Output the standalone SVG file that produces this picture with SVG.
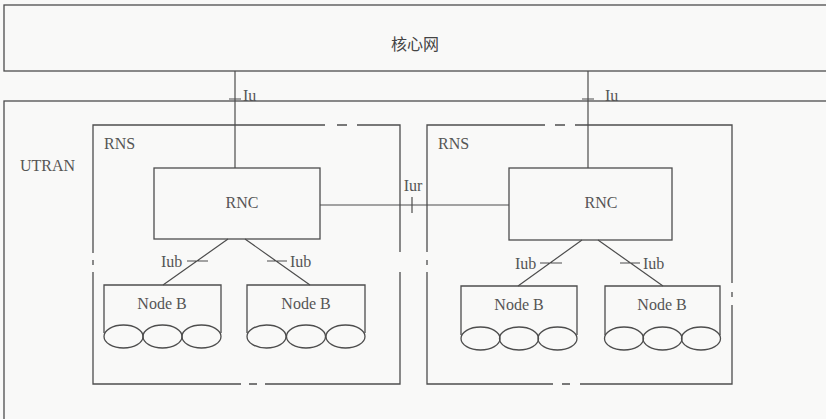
<svg xmlns="http://www.w3.org/2000/svg" width="826" height="419" viewBox="0 0 826 419">
<style>
.b{fill:none;stroke:#4d4d4d;stroke-width:1.3}
.l{fill:none;stroke:#4d4d4d;stroke-width:1.2}
.t{font-family:"Liberation Serif",serif;font-size:16px;fill:#555}
.c{font-family:"Noto Sans CJK SC",sans-serif;font-size:16px;fill:#444}
</style>
<rect width="826" height="419" fill="#f9f9f8"/>
<g id="core">
<rect class="b" x="4" y="5" width="830" height="66" stroke-width="1.6"/>
<text class="c" x="415" y="50" text-anchor="middle">核心网</text>
</g>
<g id="utran">
<rect class="b" x="4" y="101" width="830" height="330" stroke-width="1.6"/>
<text class="t" x="20" y="171">UTRAN</text>
</g>
<g id="rns1">
<path class="b" d="M93 253V125H325M337 125H347M357 125H400V252M400 272V384H265M257 384H249M241 384H93V272M93 260v5"/>
<text class="t" x="104" y="149">RNS</text>
</g>
<g id="rns2">
<path class="b" d="M427 252V125H545M555 125H565M575 125H732V283M732 292v5M732 305V384H580M570 384H562M553 384H427V272M427 260v5"/>
<text class="t" x="438" y="149">RNS</text>
</g>
<g id="rnc1">
<rect class="b" x="154" y="168" width="166" height="71"/>
<text class="t" x="242" y="208" text-anchor="middle">RNC</text>
</g>
<g id="rnc2">
<rect class="b" x="509" y="168" width="163" height="72"/>
<text class="t" x="601" y="208" text-anchor="middle">RNC</text>
</g>
<g id="nodeb1">
<path class="b" d="M104 333V285H221V333"/>
<ellipse class="b" cx="123.5" cy="336.5" rx="19.5" ry="11.5"/>
<ellipse class="b" cx="162.5" cy="336.5" rx="19.5" ry="11.5"/>
<ellipse class="b" cx="201.5" cy="336.5" rx="19.5" ry="11.5"/>
<text class="t" x="162" y="309" text-anchor="middle">Node B</text>
</g>
<g id="nodeb2">
<path class="b" d="M247 333V285H365V333"/>
<ellipse class="b" cx="266.5" cy="336.5" rx="19.5" ry="11.5"/>
<ellipse class="b" cx="306" cy="336.5" rx="19.5" ry="11.5"/>
<ellipse class="b" cx="345.5" cy="336.5" rx="19.5" ry="11.5"/>
<text class="t" x="306" y="309" text-anchor="middle">Node B</text>
</g>
<g id="nodeb3">
<path class="b" d="M461 335V286H577V335"/>
<ellipse class="b" cx="480.5" cy="338.5" rx="19.5" ry="11.5"/>
<ellipse class="b" cx="519" cy="338.5" rx="19.5" ry="11.5"/>
<ellipse class="b" cx="557.5" cy="338.5" rx="19.5" ry="11.5"/>
<text class="t" x="519" y="310" text-anchor="middle">Node B</text>
</g>
<g id="nodeb4">
<path class="b" d="M605 335V286H720V335"/>
<ellipse class="b" cx="624" cy="338.5" rx="19.5" ry="11.5"/>
<ellipse class="b" cx="662.5" cy="338.5" rx="19.5" ry="11.5"/>
<ellipse class="b" cx="701" cy="338.5" rx="19.5" ry="11.5"/>
<text class="t" x="662" y="310" text-anchor="middle">Node B</text>
</g>
<g id="connectors">
<path class="l" d="M235 71V168M229 99H241"/>
<text class="t" x="243" y="101">Iu</text>
<path class="l" d="M588 71V168M582 99H594"/>
<text class="t" x="605" y="101">Iu</text>
<path class="l" d="M320 205H509M412 197V213"/>
<text class="t" x="413" y="191" text-anchor="middle">Iur</text>
<path class="l" d="M228 239L163 285M187 261H208M245 239L310 285M267 261H287"/>
<text class="t" x="161" y="267">Iub</text>
<text class="t" x="290" y="267">Iub</text>
<path class="l" d="M582 240L518 286M540 263H562M598 240L663 286M620 263H640"/>
<text class="t" x="515" y="269">Iub</text>
<text class="t" x="643" y="269">Iub</text>
</g>
</svg>
